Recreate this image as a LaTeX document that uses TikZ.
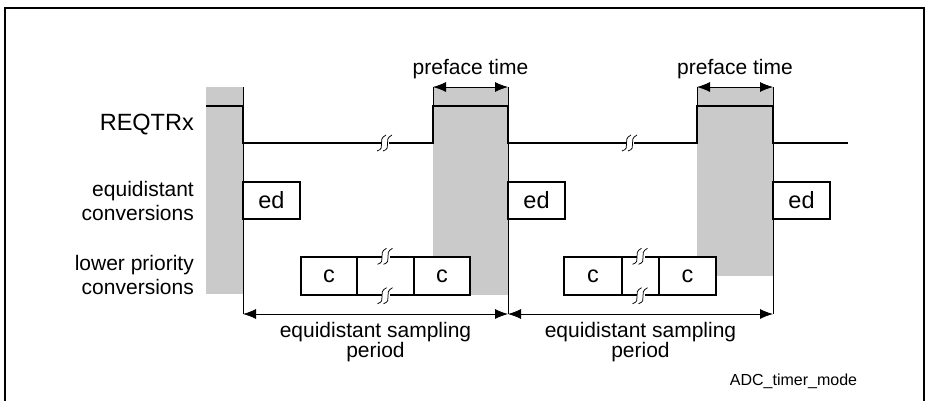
\documentclass[tikz,border=0pt]{standalone}
\usepackage{fontspec}
\setmainfont{Liberation Sans}
\usepackage{tikz}
\usetikzlibrary{arrows.meta, positioning}
\definecolor{greyzone}{HTML}{CACACA}

\begin{document}
\begin{tikzpicture}[
  x=1pt, y=-1pt,
  convbox/.style={rectangle, draw, fill=white, line width=1.4pt, inner sep=0pt,
                  minimum height=37pt,
                  font=\fontsize{23.5}{26}\selectfont},
  lbl/.style={align=right, anchor=east, inner sep=0pt,
              font=\fontsize{21}{24}\selectfont},
  sig/.style={line width=1.5pt},
  guide/.style={line width=0.8pt},
  dim/.style={{Latex[length=13pt,width=10pt]}-{Latex[length=13pt,width=10pt]},
              line width=0.8pt},
  brkmark/.pic={
    \fill[white] (-4,-5) rectangle (4,5);
    \draw[line width=0.75pt] (-8,8) .. controls (2,5) and (-9,-3) .. (1,-8);
    \draw[line width=0.75pt] (-2,8) .. controls (8,5) and (-3,-3) .. (7,-8);
  }
]
  \useasboundingbox (0,0) rectangle (927,400);

  % grey regions
  \fill[greyzone] (206,87) rectangle (243,294);
  \fill[greyzone] (433,87) rectangle (508,295);
  \fill[greyzone] (697,87) rectangle (773,276);

  % frame
  \draw[line width=2pt] (5,401) -- (5,8) -- (924,8) -- (924,401);

  % signal names
  \node[lbl, font=\fontsize{23.5}{26}\selectfont] (reqname) at (194,125) {REQTRx};
  \node[lbl] (edname) at (194,201) {equidistant\\conversions};
  \node[lbl] (lpname) at (194,275) {lower priority\\conversions};

  % REQTRx waveform
  \draw[sig] (206,106) -- (243,106) -- (243,143) -- (433,143) -- (433,106)
    -- (508,106) -- (508,143) -- (697,143) -- (697,106) -- (773,106)
    -- (773,143) -- (848,143);

  % edge markers
  \coordinate (t0) at (243,87);
  \coordinate (p1) at (433,87);
  \coordinate (t1) at (508,87);
  \coordinate (p2) at (697,87);
  \coordinate (t2) at (773,87);
  \coordinate (s0) at (243,314);
  \coordinate (s1) at (508,314);
  \coordinate (s2) at (773,314);
  \draw[guide] (t0) -- (s0);
  \draw[guide] (t1) -- (s1);
  \draw[guide] (t2) -- (s2);
  \draw[guide] (p1) -- (433,106);
  \draw[guide] (p2) -- (697,106);

  % equidistant conversions
  \node[convbox, minimum width=57pt] (ed1) at (271.5,200.5) {ed};
  \node[convbox, minimum width=57pt] (ed2) at (536.5,200.5) {ed};
  \node[convbox, minimum width=57pt] (ed3) at (801.5,200.5) {ed};

  % lower priority conversions
  \node[convbox, minimum width=56pt, minimum height=38pt] (c1) at (329,276) {c};
  \node[convbox, minimum width=57pt, minimum height=38pt] (g1) at (385.5,276) {};
  \node[convbox, minimum width=56pt, minimum height=38pt] (c2) at (442,276) {c};
  \node[convbox, minimum width=58pt, minimum height=38pt] (c3) at (593,276) {c};
  \node[convbox, minimum width=37pt, minimum height=38pt] (g2) at (640.5,276) {};
  \node[convbox, minimum width=57pt, minimum height=38pt] (c4) at (687.5,276) {c};

  % breaks
  \pic at (385,143) {brkmark};
  \pic at (630,143) {brkmark};
  \pic at (g1.north) {brkmark};
  \pic at (g1.south) {brkmark};
  \pic at (g2.north) {brkmark};
  \pic at (g2.south) {brkmark};

  % preface time
  \draw[dim] (p1) -- node[above=8pt, inner sep=0pt,
    font=\fontsize{21}{24}\selectfont] (pre1) {preface time} (t1);
  \draw[dim] (p2) -- node[above=8pt, inner sep=0pt,
    font=\fontsize{21}{24}\selectfont] (pre2) {preface time} (t2);

  % sampling periods
  \draw[dim] (s0) -- node[below=8pt, inner sep=0pt, align=center,
    font=\fontsize{21}{20}\selectfont] (per1) {equidistant sampling\\period} (s1);
  \draw[dim] (s1) -- node[below=8pt, inner sep=0pt, align=center,
    font=\fontsize{21}{20}\selectfont] (per2) {equidistant sampling\\period} (s2);

  \node[font=\fontsize{16}{18}\selectfont] (figname) at (793.5,381) {ADC\_timer\_mode};
\end{tikzpicture}
\end{document}
